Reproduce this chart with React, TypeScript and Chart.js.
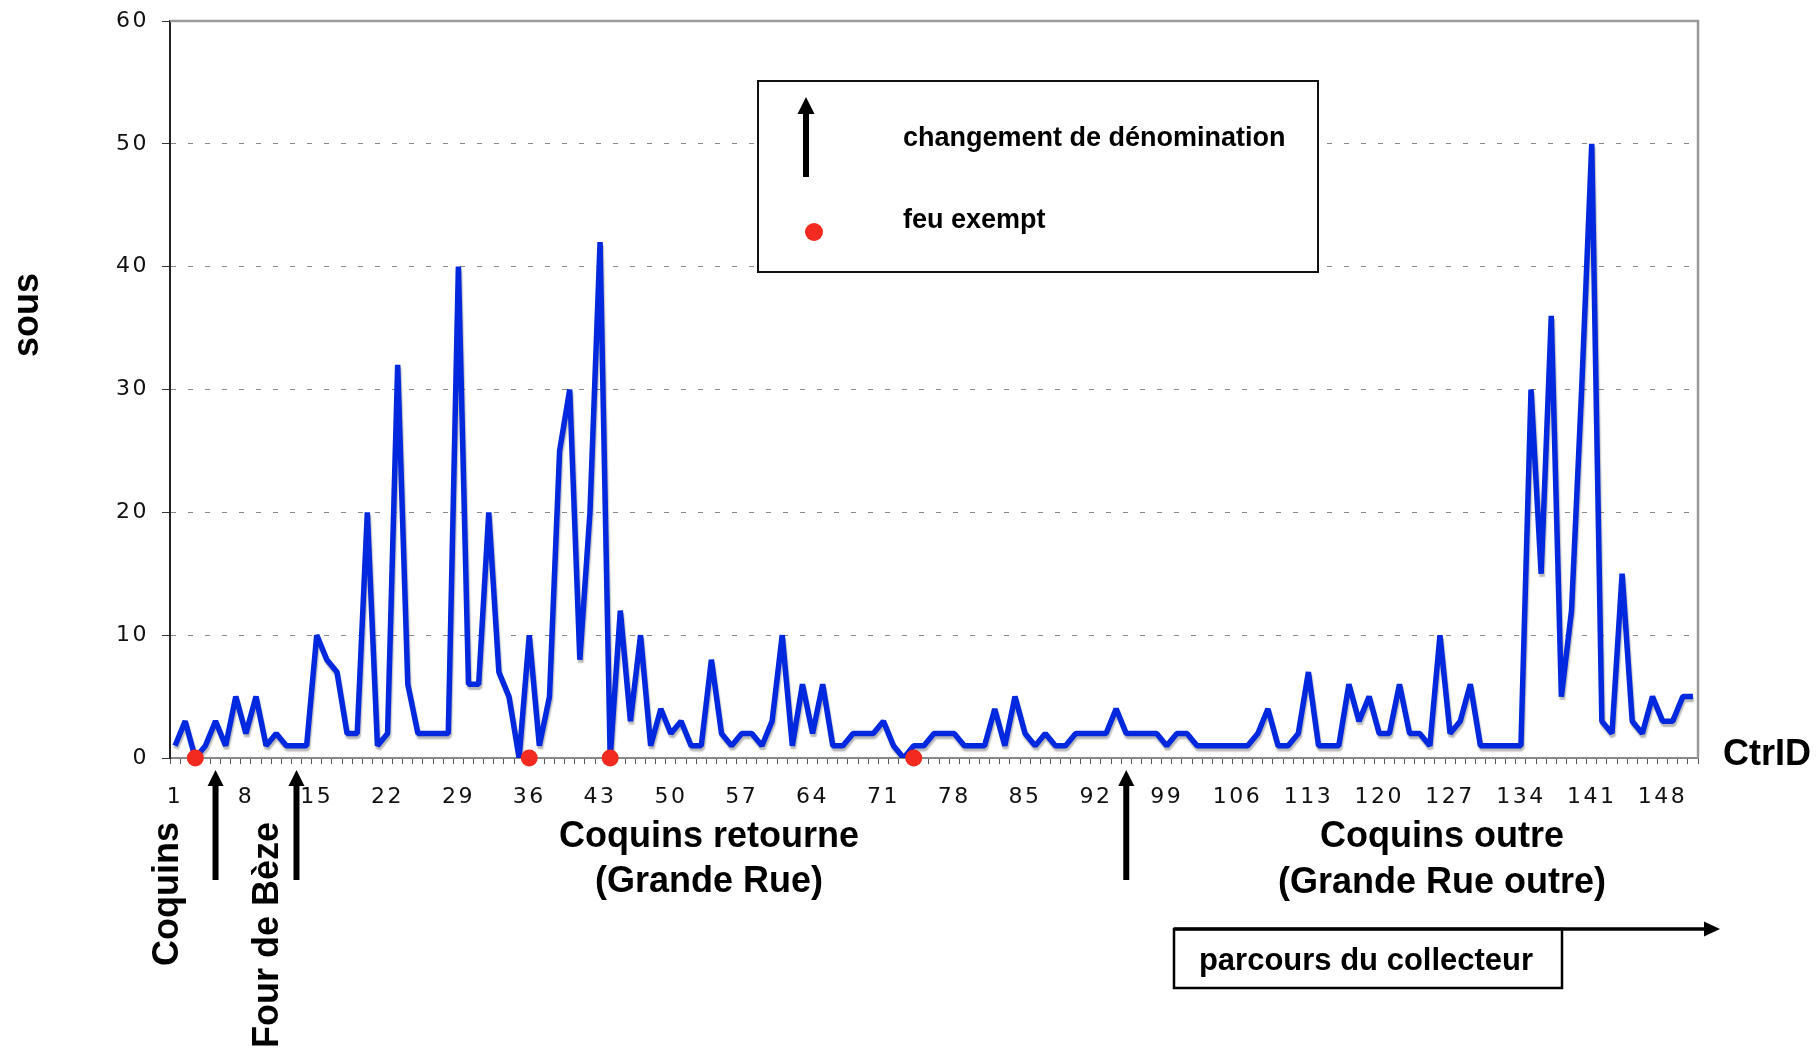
import React, { useEffect, useRef } from 'react';
import { Chart, registerables } from 'chart.js';

Chart.register(...registerables);

// CtrID categories 1..151
const ctrIds: string[] = Array.from({ length: 151 }, (_, i) => String(i + 1));

// tax in "sous" for each household
const sousValues: number[] = [
  1, 3, 0, 1, 3, 1, 5, 2, 5, 1,
  2, 1, 1, 1, 10, 8, 7, 2, 2, 20,
  1, 2, 32, 6, 2, 2, 2, 2, 40, 6,
  6, 20, 7, 5, 0, 10, 1, 5, 25, 30,
  8, 20, 42, 0, 12, 3, 10, 1, 4, 2,
  3, 1, 1, 8, 2, 1, 2, 2, 1, 3,
  10, 1, 6, 2, 6, 1, 1, 2, 2, 2,
  3, 1, 0, 1, 1, 2, 2, 2, 1, 1,
  1, 4, 1, 5, 2, 1, 2, 1, 1, 2,
  2, 2, 2, 4, 2, 2, 2, 2, 1, 2,
  2, 1, 1, 1, 1, 1, 1, 2, 4, 1,
  1, 2, 7, 1, 1, 1, 6, 3, 5, 2,
  2, 6, 2, 2, 1, 10, 2, 3, 6, 1,
  1, 1, 1, 1, 30, 15, 36, 5, 12, 30,
  50, 3, 2, 15, 3, 2, 5, 3, 3, 5,
  5,
];

// exempt households ("feu exempt")
const exemptIds: number[] = [3, 36, 44, 74];
// change of street name ("changement de dénomination")
const renameIds: number[] = [5, 13, 95];

const yMin = 0;
const yMax = 60;
const yStep = 10;
const xLabelEvery = 7;

const BLUE = '#0028DE';
const RED = '#F22A1F';
const BOLD = 'bold 36px "Liberation Sans", Arial, sans-serif';

function upArrow(ctx: CanvasRenderingContext2D, x: number, yTip: number, yBottom: number, shaft: number, head: number) {
  ctx.fillRect(x - shaft / 2, yTip + head - 1, shaft, yBottom - yTip - head + 1);
  ctx.beginPath();
  ctx.moveTo(x, yTip);
  ctx.lineTo(x - head / 2, yTip + head);
  ctx.lineTo(x + head / 2, yTip + head);
  ctx.closePath();
  ctx.fill();
}

const decorPlugin = {
  id: 'decor',
  beforeDraw(chart: any) {
    (chart.ctx as any).letterSpacing = '2.5px';
  },
  beforeDatasetDraw(chart: any, args: any) {
    if (chart.data.datasets[args.index].label === 'sous') {
      const c = chart.ctx as CanvasRenderingContext2D;
      c.save();
      c.shadowColor = 'rgba(0,0,0,0.28)';
      c.shadowOffsetX = 1;
      c.shadowOffsetY = 3;
      c.shadowBlur = 1.5;
    }
  },
  afterDatasetDraw(chart: any, args: any) {
    if (chart.data.datasets[args.index].label === 'sous') {
      chart.ctx.restore();
    }
  },
  afterDraw(chart: any) {
    const ctx = chart.ctx as CanvasRenderingContext2D;
    const area = chart.chartArea;
    const xs = chart.scales.x;
    ctx.save();
    (ctx as any).letterSpacing = '0px';

    // frame top and right
    ctx.strokeStyle = '#9a9a9a';
    ctx.lineWidth = 2.5;
    ctx.beginPath();
    ctx.moveTo(area.left, area.top);
    ctx.lineTo(area.right, area.top);
    ctx.lineTo(area.right, area.bottom);
    ctx.stroke();

    // rename arrows under the axis
    ctx.fillStyle = '#000';
    renameIds.forEach((id) => {
      const x = xs.getPixelForValue(id - 1);
      upArrow(ctx, x, area.bottom + 12, area.bottom + 122, 6, 16);
    });

    // legend box
    const lx = 758, ly = 81, lw = 560, lh = 191;
    ctx.fillStyle = '#fff';
    ctx.fillRect(lx, ly, lw, lh);
    ctx.strokeStyle = '#111';
    ctx.lineWidth = 2;
    ctx.strokeRect(lx, ly, lw, lh);
    ctx.fillStyle = '#000';
    upArrow(ctx, 806, 97, 177, 6, 17);
    ctx.fillStyle = RED;
    ctx.beginPath();
    ctx.arc(814, 232, 9, 0, Math.PI * 2);
    ctx.fill();
    ctx.fillStyle = '#000';
    ctx.font = 'bold 27px "Liberation Sans", Arial, sans-serif';
    ctx.textAlign = 'left';
    ctx.textBaseline = 'alphabetic';
    ctx.fillText('changement de dénomination', 903, 146);
    ctx.fillText('feu exempt', 903, 228);

    // axis titles
    ctx.font = BOLD;
    ctx.fillText('CtrID', 1723, 765);

    ctx.save();
    ctx.translate(38, 315);
    ctx.rotate(-Math.PI / 2);
    ctx.textAlign = 'center';
    ctx.fillText('sous', 0, 0);
    ctx.restore();

    // street names
    ctx.save();
    ctx.translate(178, 822);
    ctx.rotate(-Math.PI / 2);
    ctx.textAlign = 'right';
    ctx.fillText('Coquins', 0, 0);
    ctx.restore();

    ctx.save();
    ctx.translate(278, 822);
    ctx.rotate(-Math.PI / 2);
    ctx.textAlign = 'right';
    ctx.fillText('Four de Bèze', 0, 0);
    ctx.restore();

    ctx.textAlign = 'center';
    ctx.fillText('Coquins retourne', 709, 847);
    ctx.fillText('(Grande Rue)', 709, 892);
    ctx.fillText('Coquins outre', 1442, 847);
    ctx.fillText('(Grande Rue outre)', 1442, 893);

    // collector's route
    ctx.strokeStyle = '#000';
    ctx.lineWidth = 3.5;
    ctx.beginPath();
    ctx.moveTo(1174, 929);
    ctx.lineTo(1706, 929);
    ctx.stroke();
    ctx.beginPath();
    ctx.moveTo(1720, 929);
    ctx.lineTo(1704, 921.5);
    ctx.lineTo(1704, 936.5);
    ctx.closePath();
    ctx.fill();
    ctx.lineWidth = 2.5;
    ctx.strokeRect(1174, 929, 388, 59);
    ctx.font = 'bold 31px "Liberation Sans", Arial, sans-serif';
    ctx.fillText('parcours du collecteur', 1366, 970);

    ctx.restore();
  },
};

export default function App() {
  const canvasRef = useRef<HTMLCanvasElement | null>(null);

  useEffect(() => {
    const canvas = canvasRef.current;
    if (!canvas) return;
    const tickFont = { family: '"DejaVu Sans", Verdana, sans-serif', size: 22 };
    const chart = new Chart(canvas, {
      type: 'line',
      data: {
        labels: ctrIds,
        datasets: [
          {
            label: 'feu exempt',
            data: ctrIds.map((c) => (exemptIds.includes(Number(c)) ? 0 : null)),
            showLine: false,
            pointRadius: 8.5,
            pointBackgroundColor: RED,
            pointBorderWidth: 0,
            borderColor: RED,
            clip: false,
          },
          {
            label: 'sous',
            data: sousValues,
            borderColor: BLUE,
            borderWidth: 5.5,
            pointRadius: 0,
            tension: 0,
            borderJoinStyle: 'bevel',
            fill: false,
          },
        ],
      } as any,
      options: {
        responsive: false,
        animation: false,
        events: [],
        layout: { padding: { left: 0, right: 1816 - 1698, top: 21, bottom: 0 } },
        plugins: { legend: { display: false }, tooltip: { enabled: false } },
        scales: {
          x: {
            type: 'category',
            offset: true,
            grid: {
              display: true,
              drawOnChartArea: false,
              offset: true,
              tickLength: 6,
              tickColor: '#555',
              tickWidth: 1,
            },
            border: { display: true, color: '#888', width: 2 },
            ticks: {
              autoSkip: false,
              maxRotation: 0,
              minRotation: 0,
              padding: 20,
              color: '#111',
              font: tickFont,
              callback: (_v: any, i: number) => (i % xLabelEvery === 0 ? ctrIds[i] : ''),
            },
            afterFit: (s: any) => {
              s.height = 1060 - 758;
              s.paddingLeft = 0;
              s.paddingRight = 0;
            },
          },
          y: {
            min: yMin,
            max: yMax,
            ticks: { stepSize: yStep, padding: 13, color: '#111', font: tickFont },
            grid: {
              color: '#8a8a8a',
              lineWidth: 1,
              tickLength: 8,
              tickColor: '#333',
              tickBorderDash: [],
              borderDash: [5, 12],
            },
            border: { display: true, color: '#222', width: 2, dash: [5, 12] },
            afterFit: (s: any) => {
              s.width = 170;
              s.paddingTop = 0;
              s.paddingBottom = 0;
            },
          },
        },
      } as any,
      plugins: [decorPlugin as any],
    });
    return () => chart.destroy();
  }, []);

  return (
    <div style={{ position: 'fixed', left: 0, top: 0, width: 1816, height: 1060, background: '#fff' }}>
      <canvas ref={canvasRef} width={1816} height={1060} style={{ display: 'block', width: 1816, height: 1060 }} />
    </div>
  );
}
